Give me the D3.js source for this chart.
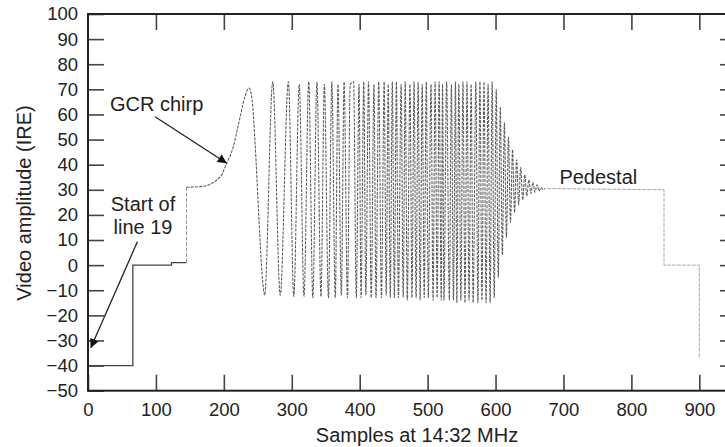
<!DOCTYPE html>
<html>
<head>
<meta charset="utf-8">
<script src="https://cdn.jsdelivr.net/npm/d3@7"></script>
<style>
  body { margin: 0; background: #fff; }
  text { font-family: "Liberation Sans", Arial, sans-serif; fill: #222; }
</style>
</head>
<body>
<div id="chart"></div>
<script>

// tick values
var xTicks = [0, 100, 200, 300, 400, 500, 600, 700, 800, 900];
var yTicks = [-50, -40, -30, -20, -10, 0, 10, 20, 30, 40, 50, 60, 70, 80, 90, 100];

// sync + blanking level at the start of line 19 (samples, IRE)
var syncX = [0, 66, 66, 123, 123, 145];
var syncY = [-40, -40, 0, 0, 1, 1];

// step up to the chirp pedestal
var stepX = [145, 145];
var stepY = [1, 31];

// GCR chirp (turning points)
var chirpX = [145, 172, 182, 190, 198, 204, 210, 214, 219, 224, 228, 231, 237, 241, 246, 251, 257, 260,
  272, 283, 295, 303, 311, 318, 325, 331, 337, 343, 348, 354, 359, 364, 368, 373, 377, 382, 386, 391,
  395, 399, 402, 406, 409, 413, 417, 421, 424, 428, 432, 436, 439, 442, 445, 448, 451, 454, 457, 461,
  464, 467, 470, 474, 477, 480, 483, 486, 489, 492, 495, 498, 501, 505, 508, 511, 514, 517, 520, 522,
  524, 528, 532, 535, 538, 541, 543, 546, 549, 552, 555, 558, 561, 564, 567, 571, 574, 577, 580, 583,
  586, 589, 592, 595, 598, 601, 604, 607, 610, 613, 616, 619, 622, 625, 628, 631, 634, 637, 640, 643,
  646, 649, 652, 655, 658, 661, 664, 667, 670, 673, 676];
var chirpY = [31, 31.5, 32.5, 34, 36.5, 40.6, 44, 47.2, 53, 59, 64, 67, 70.5, 67, 48.6, 22, -6, -12,
  73, -12, 73, -12.5, 72, -12.5, 73, -13, 73, -12.5, 72, -13, 73, -13, 72, -12, 73, -13, 72,
  73, -13, 72, -13, 73, -12, 73, -13, 72, -13, 73, -13, 73, -12, 72, -13, 73, -13, 73, -13,
  72, -13, 73, -14, 72, -13, 73, -13, 73, -14, 72, -13, 73, -13, 72, -14, 73, -13, 73, -14,
  72, -14, 73, -14, 72, -14, 73, -15, 72, -14, 73, -15, 73, -14, 72, -15, 73, -15, 73, -14,
  73, -15, 72, -15, 73, -13, 70, -5, 63, 4, 57, 11, 51, 17, 46, 21, 42, 24, 39, 26,
  36, 27.5, 34, 28.5, 33, 29, 32, 29.5, 31, 30, 30.5];

// pedestal and the end of the line
var pedX = [676, 848, 848, 900, 900];
var pedY = [30.5, 30, 0, 0, -37];

// set the dimensions and margins of the graph
var margin = {top: 14, left: 88},
    width = 648,
    height = 376.7;

var svg = d3.select("#chart")
  .append("svg")
    .attr("width", 725)
    .attr("height", 447)
  .append("g")
    .attr("transform", "translate(" + margin.left + "," + margin.top + ")");

var x = d3.scaleLinear().domain([0, 954]).range([0, width]);
var y = d3.scaleLinear().domain([-50, 100]).range([height, 0]);

function toPoints(xs, ys) {
  return xs.map(function(d, i) { return [d, ys[i]]; });
}

var straight = d3.line()
  .x(function(d) { return x(d[0]); })
  .y(function(d) { return y(d[1]); });

var smooth = d3.line()
  .curve(d3.curveMonotoneX)
  .x(function(d) { return x(d[0]); })
  .y(function(d) { return y(d[1]); });

// trace
svg.append("path")
  .attr("d", straight(toPoints(syncX, syncY)))
  .attr("fill", "none")
  .attr("stroke", "#444")
  .attr("stroke-width", 1.3);

svg.append("path")
  .attr("d", straight(toPoints(stepX, stepY)))
  .attr("fill", "none")
  .attr("stroke", "#999")
  .attr("stroke-width", 1)
  .attr("stroke-dasharray", "4,1.5");

svg.append("path")
  .attr("d", smooth(toPoints(chirpX, chirpY)))
  .attr("fill", "none")
  .attr("stroke", "#5a5a5a")
  .attr("stroke-width", 1.05)
  .attr("stroke-dasharray", "3,1.2");

svg.append("path")
  .attr("d", straight(toPoints(pedX, pedY)))
  .attr("fill", "none")
  .attr("stroke", "#aaa")
  .attr("stroke-width", 1)
  .attr("stroke-dasharray", "4,1");

// axes, ticks pointing inward
function styleAxis(g) {
  g.select(".domain").remove();
  g.selectAll(".tick line").attr("stroke", "#444").attr("stroke-width", 1.6);
  g.selectAll(".tick text").style("font-size", "18.5px").attr("fill", "#222");
}

svg.append("g")
  .attr("transform", "translate(0," + height + ")")
  .call(d3.axisBottom(x).tickValues(xTicks).tickSizeInner(-16).tickSizeOuter(0).tickPadding(12))
  .call(styleAxis);

svg.append("g")
  .call(d3.axisLeft(y).tickValues(yTicks).tickSizeInner(-16).tickSizeOuter(0).tickPadding(10))
  .call(styleAxis);

svg.append("g")
  .call(d3.axisTop(x).tickValues(xTicks.slice(1)).tickSizeInner(-16).tickSizeOuter(0).tickFormat(""))
  .call(styleAxis);

svg.append("g")
  .attr("transform", "translate(" + width + ",0)")
  .call(d3.axisRight(y).tickValues(yTicks.slice(1, -1)).tickSizeInner(-16).tickSizeOuter(0).tickFormat(""))
  .call(styleAxis);

// frame
svg.append("rect")
  .attr("width", width)
  .attr("height", height)
  .attr("fill", "none")
  .attr("stroke", "#222")
  .attr("stroke-width", 2);

// axis titles
svg.append("text")
  .attr("x", 329)
  .attr("y", 428)
  .attr("text-anchor", "middle")
  .style("font-size", "20px")
  .text("Samples at 14:32 MHz");

svg.append("text")
  .attr("transform", "translate(-57," + 189 + ") rotate(-90)")
  .attr("text-anchor", "middle")
  .style("font-size", "20px")
  .text("Video amplitude (IRE)");

// annotations
svg.append("defs").append("marker")
    .attr("id", "arrow")
    .attr("viewBox", "0 0 10 10")
    .attr("refX", 10)
    .attr("refY", 5)
    .attr("markerUnits", "userSpaceOnUse")
    .attr("markerWidth", 13)
    .attr("markerHeight", 9)
    .attr("orient", "auto")
  .append("path")
    .attr("d", "M0,0L10,5L0,10z")
    .attr("fill", "#111");

var arrows = [
  {from: [98.7, 59.1], to: [204.3, 40.6]},
  {from: [72.7, 9.3], to: [4, -33]}
];

svg.selectAll(".arrow")
  .data(arrows)
  .enter().append("line")
    .attr("class", "arrow")
    .attr("x1", function(d) { return x(d.from[0]); })
    .attr("y1", function(d) { return y(d.from[1]); })
    .attr("x2", function(d) { return x(d.to[0]); })
    .attr("y2", function(d) { return y(d.to[1]); })
    .attr("stroke", "#222")
    .attr("stroke-width", 1.3)
    .attr("marker-end", "url(#arrow)");

var labels = [
  {text: "GCR chirp", at: [32.4, 61.3], anchor: "start"},
  {text: "Start of", at: [81, 21.7], anchor: "middle"},
  {text: "line 19", at: [81, 12.4], anchor: "middle"},
  {text: "Pedestal", at: [694, 32.2], anchor: "start"}
];

svg.selectAll(".label")
  .data(labels)
  .enter().append("text")
    .attr("class", "label")
    .attr("x", function(d) { return x(d.at[0]); })
    .attr("y", function(d) { return y(d.at[1]); })
    .attr("text-anchor", function(d) { return d.anchor; })
    .style("font-size", "20px")
    .text(function(d) { return d.text; });

</script>
</body>
</html>
